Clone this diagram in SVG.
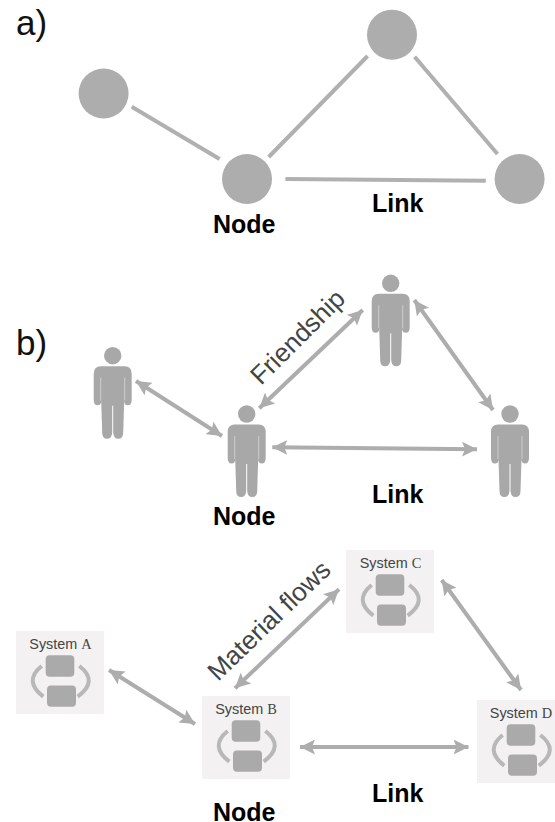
<svg xmlns="http://www.w3.org/2000/svg" width="555" height="822" viewBox="0 0 555 822">
<style>
text{font-family:"Liberation Sans",Arial,sans-serif}
.lab{font-size:25px;font-weight:700;fill:#000}
.sec{font-size:35px;fill:#111}
.it{font-size:26px;fill:#444}
.sys{font-size:14.4px;fill:#444}
.ser{font-family:"Liberation Serif","Times New Roman",serif}
.node{fill:#adadad}
.plain{stroke:#b0b0b0;stroke-width:4;fill:none}
.arr{stroke:#adadad;stroke-width:4;fill:none;marker-start:url(#ah);marker-end:url(#ah)}
</style>
<defs>
<marker id="ah" markerUnits="userSpaceOnUse" markerWidth="16" markerHeight="15" refX="15" refY="7.5" orient="auto-start-reverse"><path d="M0,0 L15,7.5 L0,15 L3,7.5Z" fill="#adadad"/></marker>
<g id="person">
<circle cx="0" cy="0" r="8.7" fill="#a8a8a8"/>
<path fill="#a8a8a8" d="M-12,10.5 H12 Q19,10.5 19,18 V44 Q19,49.5 15,49.5 Q11.5,49.5 11.5,45 L10.5,77 Q10.5,83 5.5,83 Q1,83 0.5,77 V50 H-0.5 V77 Q-1,83 -5.5,83 Q-10.5,83 -10.5,77 L-11.5,45 Q-11.5,49.5 -15,49.5 Q-19,49.5 -19,44 V18 Q-19,10.5 -12,10.5Z"/>
<path d="M-12,22 V45 M12,22 V45" stroke="#d6d6d6" stroke-width="0.8" fill="none"/>
</g>
<g id="sysbox">
<rect x="0" y="0" width="88" height="83" fill="#f3f1f1"/>
<rect x="29.7" y="24.3" width="28.6" height="21.4" rx="4" fill="#aaa"/>
<rect x="31" y="54.5" width="29" height="21.2" rx="4" fill="#aaa"/>
<path d="M25.7,35 Q7,50 27.3,65.7" fill="none" stroke="#b8b8b8" stroke-width="4"/>
<path d="M63.3,35 Q83,50 61.7,65.7" fill="none" stroke="#b8b8b8" stroke-width="4"/>
</g>
</defs>
<g id="connectors">
<path class="plain" d="M131.7,106.7 L219.6,159"/>
<path class="plain" d="M268.7,157 L367.6,56"/>
<path class="plain" d="M414.6,56.7 L497.5,154"/>
<path class="plain" d="M285.4,179 L485.8,180.7"/>
<path class="arr" d="M136,381 L222,436"/>
<path class="arr" d="M259.3,408.3 L362.7,310"/>
<path class="arr" d="M272.3,447.3 L477,449.3"/>
<path class="arr" d="M414.3,300 L493,410"/>
<path class="arr" d="M109,670 L195,724"/>
<path class="arr" d="M235,688.3 L339,589.3"/>
<path class="arr" d="M300,747 L468.5,747"/>
<path class="arr" d="M441.7,580 L521,690"/>
</g>
<g id="a-1"><circle class="node" cx="103.6" cy="93.5" r="25"/></g>
<g id="a-2"><circle class="node" cx="392" cy="34.7" r="25"/></g>
<g id="a-3"><circle class="node" cx="247" cy="179" r="25"/></g>
<g id="a-4"><circle class="node" cx="519.6" cy="179" r="25"/></g>
<g id="b-1"><use href="#person" x="112.7" y="355.7"/></g>
<g id="b-2"><use href="#person" x="246.7" y="414"/></g>
<g id="b-3"><use href="#person" x="390.7" y="283.3"/></g>
<g id="b-4"><use href="#person" x="510" y="414"/></g>
<g id="sys-a"><use href="#sysbox" x="16" y="631"/><text class="sys" x="60.5" y="648.5" text-anchor="middle">System <tspan class="ser">A</tspan></text></g>
<g id="sys-b"><use href="#sysbox" x="202" y="696"/><text class="sys" x="246" y="714" text-anchor="middle">System <tspan class="ser">B</tspan></text></g>
<g id="sys-c"><use href="#sysbox" x="346" y="550"/><text class="sys" x="390.5" y="568" text-anchor="middle">System <tspan class="ser">C</tspan></text></g>
<g id="sys-d"><use href="#sysbox" x="477" y="700"/><text class="sys" x="521" y="718" text-anchor="middle">System <tspan class="ser">D</tspan></text></g>
<g id="labels">
<text class="sec" x="16" y="35">a)</text>
<text class="sec" x="16" y="355">b)</text>
<text class="lab" x="213" y="233">Node</text>
<text class="lab" x="372" y="211.5">Link</text>
<text class="lab" x="213" y="525">Node</text>
<text class="lab" x="372" y="502.5">Link</text>
<text class="lab" x="213" y="821">Node</text>
<text class="lab" x="372" y="801.5">Link</text>
<text class="it" transform="translate(261,386) rotate(-45)">Friendship</text>
<text class="it" transform="translate(218,682) rotate(-44)">Material flows</text>
</g>
</svg>
